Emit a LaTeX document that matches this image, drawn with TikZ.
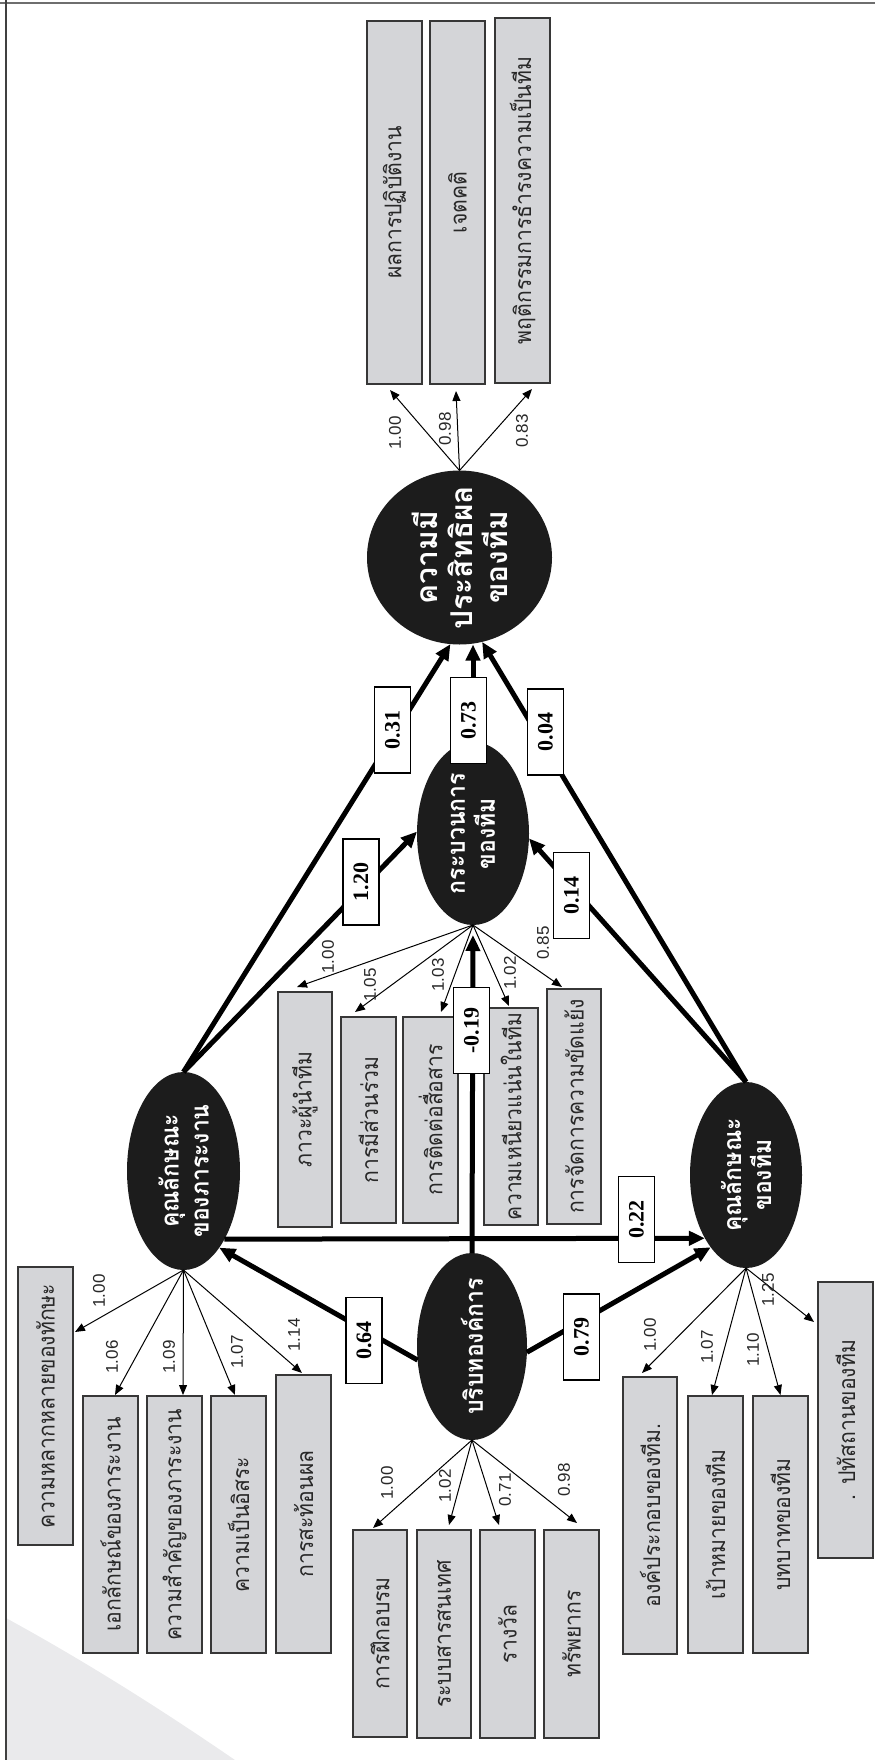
\documentclass[tikz,border=0pt]{standalone}
\usepackage{fontspec}
\usepackage{graphicx}
\setmainfont{Liberation Serif}
\newfontfamily\thaifont[Script=Thai]{Loma}
\newfontfamily\thainarrow[Script=Thai, FakeStretch=0.92]{Loma}
\newfontfamily\loadfont{Liberation Sans}
\usetikzlibrary{shapes.geometric,arrows.meta}
\definecolor{latfill}{RGB}{28,28,28}
\definecolor{boxfill}{RGB}{212,213,216}
\definecolor{boxline}{RGB}{55,55,55}
\definecolor{boxtext}{RGB}{40,40,40}
\definecolor{framegray}{RGB}{110,110,110}
\definecolor{swoosh}{RGB}{234,234,236}
\newcommand\rt[1]{\rotatebox{90}{#1}}

\begin{document}
\begin{tikzpicture}[x=0.5pt,y=-0.5pt,
  latent/.style={ellipse, fill=latfill, draw=none, inner sep=0pt, outer sep=0pt},
  lattext/.style={rotate=90, align=center, text=white, inner sep=0pt,
    font=\thainarrow\bfseries\fontsize{12.5}{15}\selectfont},
  ind/.style={rectangle, draw=boxline, line width=0.7pt, fill=boxfill, inner sep=0pt,
    outer sep=0pt, text=boxtext, font=\thainarrow\fontsize{11.5}{14}\selectfont},
  coef/.style={rectangle, draw=black, line width=0.6pt, fill=white, minimum width=18pt,
    minimum height=43pt, inner sep=0pt, font=\bfseries\fontsize{11}{13}\selectfont},
  load/.style={inner sep=0pt, text=boxtext, font=\loadfont\fontsize{8.5}{10}\selectfont},
  effect/.style={line width=2.5pt, -{Triangle[length=8pt,width=7pt]}},
  loading/.style={line width=0.5pt, -{Triangle[length=5pt,width=4pt]}},
]
\useasboundingbox (0,0) rectangle (875,1760);

% page decoration
\fill[swoosh] (6,1618) .. controls (90,1664) and (165,1712) .. (235,1760) -- (6,1760) -- cycle;
\draw[framegray, line width=1.2pt] (0,3) -- (875,3);
\draw[black!75, line width=0.8pt] (6,0) -- (6,1760);

% latent variables
\node[latent, minimum width=92.5pt, minimum height=87pt] (E) at (459.5,557.5) {};
\node[latent, minimum width=56pt, minimum height=91.5pt] (P) at (473,833.5) {};
\node[latent, minimum width=56.5pt, minimum height=99pt] (T) at (183.5,1171) {};
\node[latent, minimum width=56pt, minimum height=93pt] (M) at (746,1175) {};
\node[latent, minimum width=55pt, minimum height=93.5pt] (O) at (472,1346.5) {};

% indicators of team effectiveness
\node[ind, minimum width=27.5pt, minimum height=181.5pt] (B1) at (394.5,202.5) {\rt{ผลการปฏิบัติงาน}};
\node[ind, minimum width=27.5pt, minimum height=181.5pt] (B2) at (457.5,202.5) {\rt{เจตคติ}};
\node[ind, minimum width=27.5pt, minimum height=182.5pt] (B3) at (522.5,200.5) {\rt{พฤติกรรมการธำรงความเป็นทีม}};

% indicators of team process
\node[ind, minimum width=27pt, minimum height=117.5pt] (PB1) at (305,1109.5) {\rt{ภาวะผู้นำทีม}};
\node[ind, minimum width=27.5pt, minimum height=103pt] (PB2) at (368.5,1120) {\rt{การมีส่วนร่วม}};
\node[ind, minimum width=27.5pt, minimum height=103pt] (PB3) at (430.5,1120) {\rt{การติดต่อสื่อสาร}};
\node[ind, minimum width=27pt, minimum height=108.5pt] (PB4) at (511,1116.5) {\rt{ความเหนียวแน่นในทีม}};
\node[ind, minimum width=27pt, minimum height=117.5pt] (PB5) at (574,1106.5) {\rt{การจัดการความขัดแย้ง}};

% indicators of task characteristics
\node[ind, minimum width=27.5pt, minimum height=139pt] (TB1) at (45.5,1406) {\rt{ความหลากหลายของทักษะ}};
\node[ind, minimum width=27.5pt, minimum height=128.5pt] (TB2) at (110.5,1524.5) {\rt{เอกลักษณ์ของภาระงาน}};
\node[ind, minimum width=27.5pt, minimum height=128.5pt] (TB3) at (174.5,1524.5) {\rt{ความสำคัญของภาระงาน}};
\node[ind, minimum width=27.5pt, minimum height=128.5pt] (TB4) at (238.5,1524.5) {\rt{ความเป็นอิสระ}};
\node[ind, minimum width=27.5pt, minimum height=139pt] (TB5) at (303.5,1514) {\rt{การสะท้อนผล}};

% indicators of organisational context
\node[ind, minimum width=27pt, minimum height=103.5pt] (OB1) at (380,1633.5) {\rt{การฝึกอบรม}};
\node[ind, minimum width=27pt, minimum height=104pt] (OB2) at (444,1634) {\rt{ระบบสารสนเทศ}};
\node[ind, minimum width=27.5pt, minimum height=104pt] (OB3) at (507.5,1634) {\rt{รางวัล}};
\node[ind, minimum width=27.5pt, minimum height=104pt] (OB4) at (571.5,1634) {\rt{ทรัพยากร}};

% indicators of team characteristics
\node[ind, minimum width=27pt, minimum height=138.5pt] (MB1) at (650,1515.5) {\rt{องค์ประกอบของทีม.}};
\node[ind, minimum width=27.5pt, minimum height=128.5pt] (MB2) at (715.5,1524.5) {\rt{เป้าหมายของทีม}};
\node[ind, minimum width=27.5pt, minimum height=128.5pt] (MB3) at (780.5,1524.5) {\rt{บทบาทของทีม}};
\node[ind, minimum width=27.5pt, minimum height=138pt] (MB4) at (845.5,1420) {\rt{. ปทัสถานของทีม}};

% structural paths
\draw[effect] (T.north) -- (E.264);
\draw[effect] (T.north) -- (P.178);
\draw[effect] (P.north) -- (P.north |- E.south);
\draw[effect] (M.north) -- (E.285);
\draw[effect] (M.north) -- (P.355);
\draw[effect] (T.-59) -- (M.237);
\draw[effect, shorten >=5pt] (O.north) -- (P.south);
\draw[effect] (O.194) -- (T.295);
\draw[effect] (O.354) -- (M.244);

% path coefficients
\node[coef] (c31) at (392.5,730) {\rt{0.31}};
\node[coef] (c73) at (468.5,720.5) {\rt{0.73}};
\node[coef] (c04) at (545.5,732) {\rt{0.04}};
\node[coef] (c120) at (361,882) {\rt{1.20}};
\node[coef] (c14) at (571.5,895.5) {\rt{0.14}};
\node[coef] (cm19) at (471.5,1030.5) {\rt{-0.19}};
\node[coef] (c22) at (636.5,1219.5) {\rt{0.22}};
\node[coef] (c64) at (364,1340.5) {\rt{0.64}};
\node[coef] (c79) at (581.5,1337) {\rt{0.79}};

% latent variable names
\node[lattext, font=\thaifont\bfseries\fontsize{15}{17.5}\selectfont] (Et) at (E.center) {ความมี\\ประสิทธิผล\\ของทีม};
\node[lattext] (Pt) at (P.center) {กระบวนการ\\ของทีม};
\node[lattext] (Tt) at (T.center) {คุณลักษณะ\\ของภาระงาน};
\node[lattext] (Mt) at (M.center) {คุณลักษณะ\\ของทีม};
\node[lattext] (Ot) at (O.center) {บริบทองค์การ};

% measurement paths
\draw[loading] (E.north) -- ([xshift=-2.25pt,yshift=-3pt]B1.south);
\draw[loading] (E.north) -- ([xshift=-0.75pt,yshift=-3.5pt]B2.south);
\draw[loading] (E.north) -- ([xshift=4.75pt,yshift=-3pt]B3.south);

\draw[loading] (P.south) -- ([xshift=-4pt,yshift=2.5pt]PB1.north);
\draw[loading] (P.south) -- ([xshift=-6.75pt,yshift=2.5pt]PB2.north);
\draw[loading] (P.south) -- ([xshift=5.25pt,yshift=2.5pt]PB3.north);
\draw[loading] (P.south) -- ([xshift=-1pt,yshift=1pt]PB4.north);
\draw[loading] (P.south) -- ([xshift=-6pt,yshift=1pt]PB5.north);

\draw[loading] (T.south) -- ([xshift=1pt,yshift=37pt]TB1.east);
\draw[loading] (T.south) -- ([xshift=2.25pt,yshift=0.5pt]TB2.north);
\draw[loading] (T.south) -- ([xshift=4.25pt,yshift=0.5pt]TB3.north);
\draw[loading] (T.south) -- ([xshift=-1.75pt,yshift=0.5pt]TB4.north);
\draw[loading] (T.south) -- ([xshift=-0.75pt,yshift=1pt]TB5.north);

\draw[loading] (O.south) -- ([xshift=-3.5pt,yshift=1pt]OB1.north);
\draw[loading] (O.south) -- ([xshift=2.5pt,yshift=2.5pt]OB2.north);
\draw[loading] (O.south) -- ([xshift=-4.25pt,yshift=2.5pt]OB3.north);
\draw[loading] (O.south) -- ([xshift=2.75pt,yshift=3.5pt]OB4.north);

\draw[loading] (M.south) -- ([xshift=-4pt,yshift=2pt]MB1.north);
\draw[loading] (M.south) -- ([xshift=-1.75pt,yshift=0.5pt]MB2.north);
\draw[loading] (M.south) -- ([yshift=0.5pt]MB3.north);
\draw[loading] (M.south) -- ([xshift=-2pt,yshift=49pt]MB4.west);

% factor loadings
\node[load] (lB1) at (395,433) {\rt{1.00}};
\node[load] (lB2) at (445,429) {\rt{0.98}};
\node[load] (lB3) at (522,431) {\rt{0.83}};

\node[load] (lP1) at (328,957) {\rt{1.00}};
\node[load] (lP2) at (370,985) {\rt{1.05}};
\node[load] (lP3) at (438,975) {\rt{1.03}};
\node[load] (lP4) at (510,973) {\rt{1.02}};
\node[load] (lP5) at (543,943) {\rt{0.85}};

\node[load] (lT1) at (99,1291) {\rt{1.00}};
\node[load] (lT2) at (112,1357) {\rt{1.06}};
\node[load] (lT3) at (169,1357) {\rt{1.09}};
\node[load] (lT4) at (237,1352) {\rt{1.07}};
\node[load] (lT5) at (294,1335) {\rt{1.14}};

\node[load] (lO1) at (387,1483) {\rt{1.00}};
\node[load] (lO2) at (445,1486) {\rt{1.02}};
\node[load] (lO3) at (505,1490) {\rt{0.71}};
\node[load] (lO4) at (564,1480) {\rt{0.98}};

\node[load] (lM1) at (650,1335) {\rt{1.00}};
\node[load] (lM2) at (707,1347) {\rt{1.07}};
\node[load] (lM3) at (753,1350) {\rt{1.10}};
\node[load] (lM4) at (768,1290) {\rt{1.25}};
\end{tikzpicture}
\end{document}
